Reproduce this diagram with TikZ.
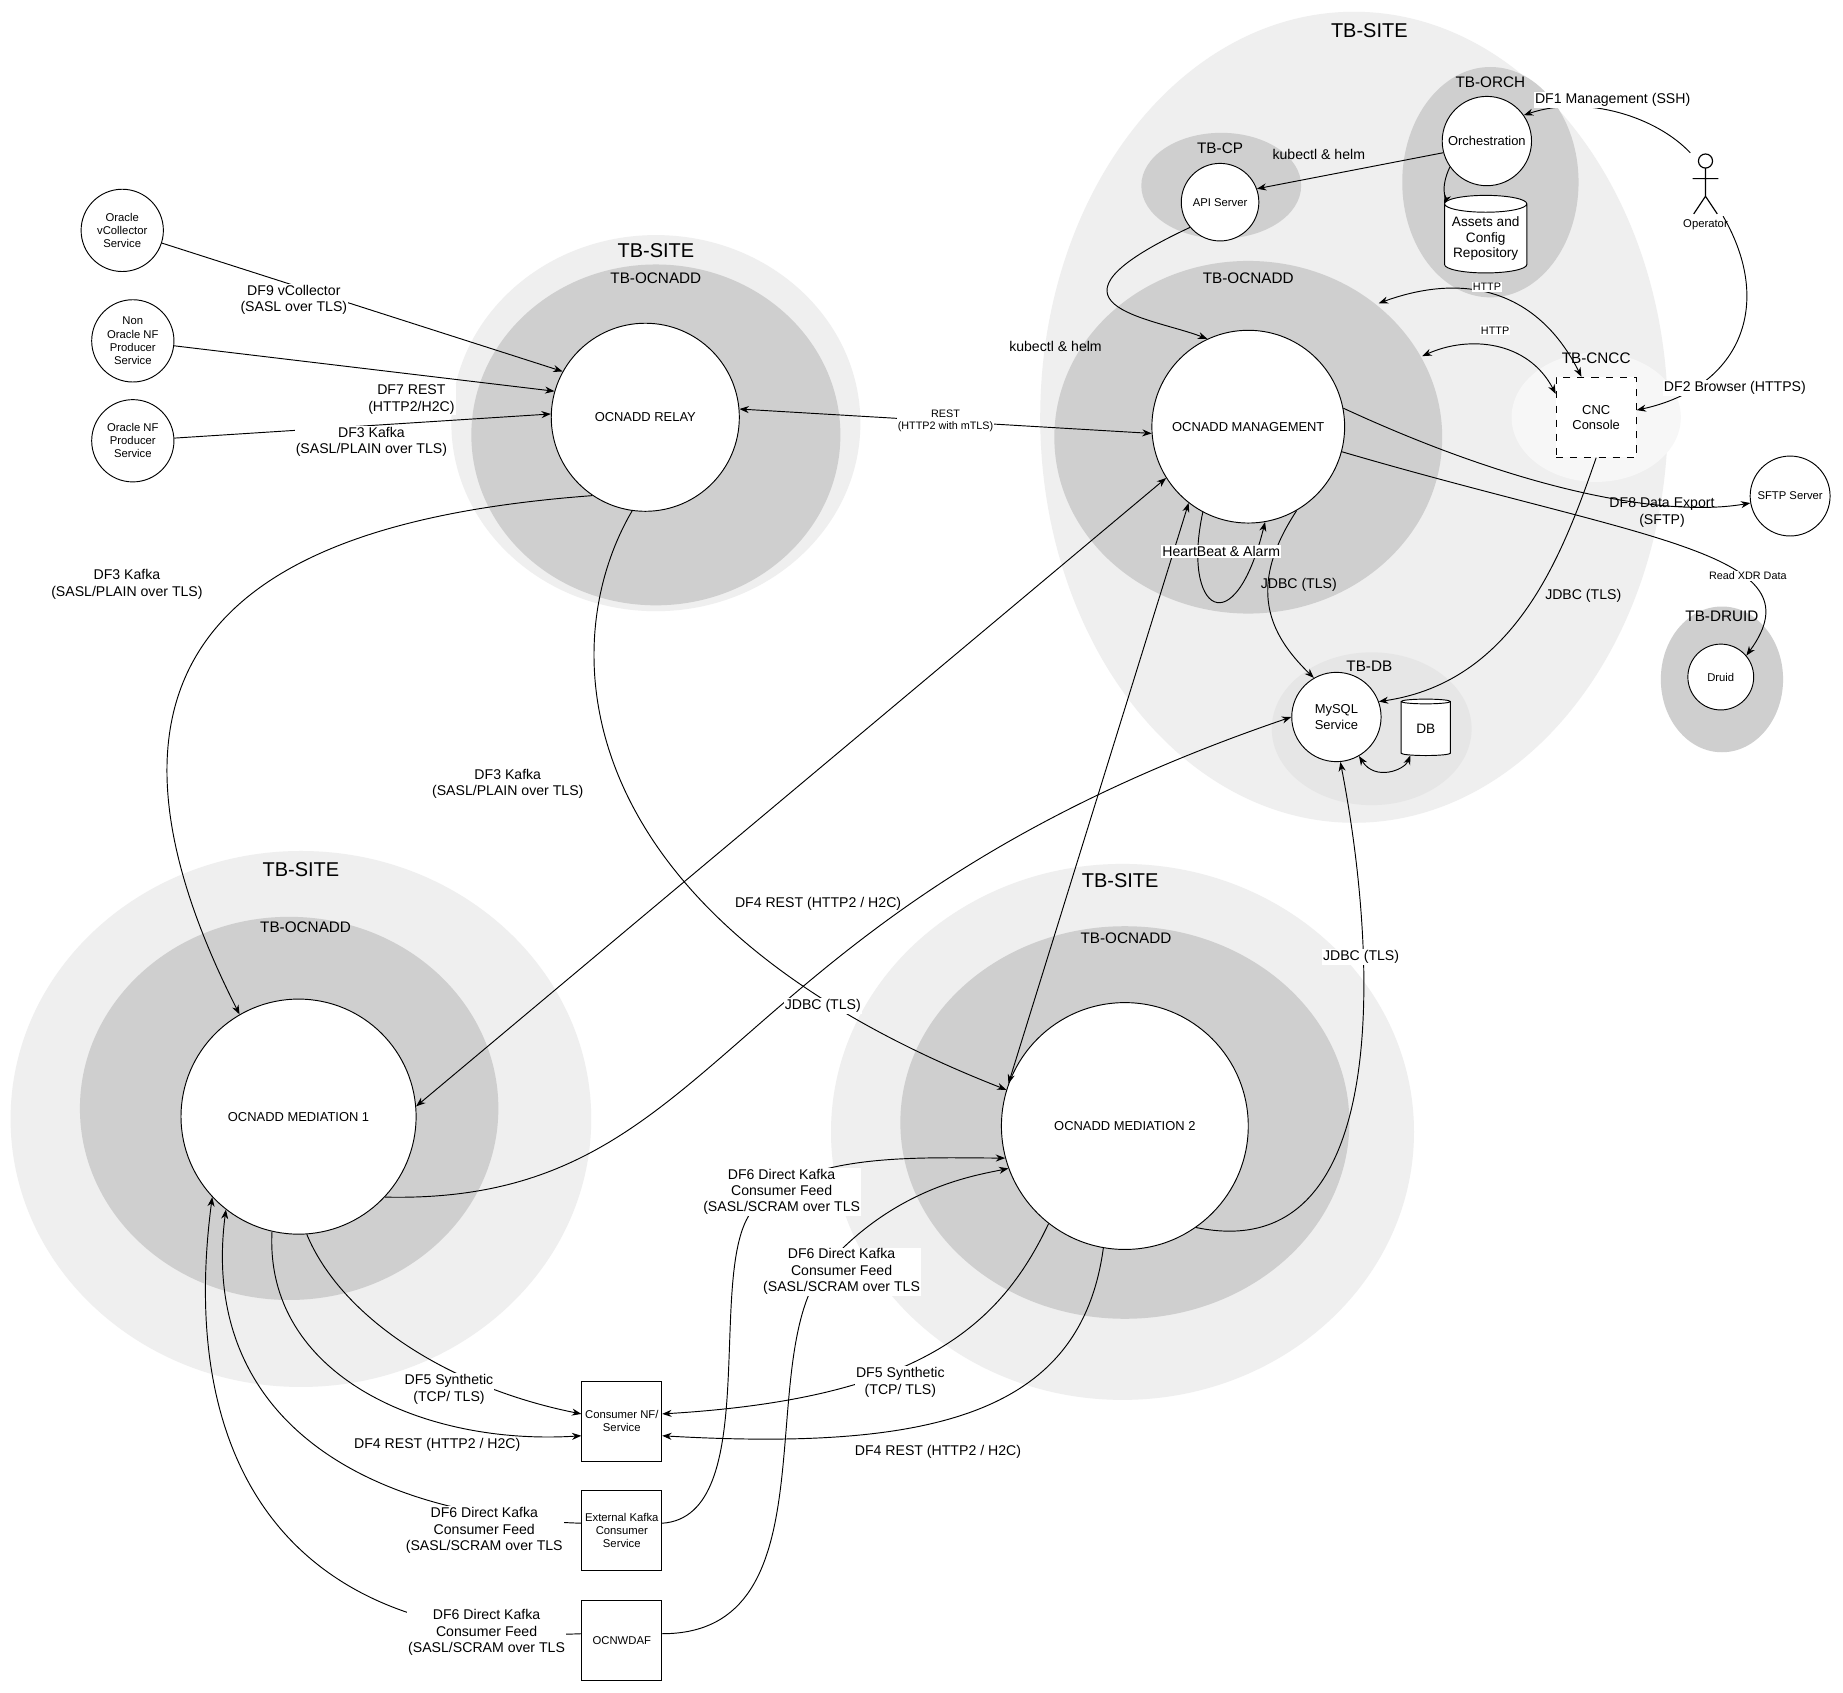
\documentclass[tikz,border=0pt]{standalone}
\usepackage{fontspec}
\setmainfont{Liberation Sans}
\usetikzlibrary{shapes.geometric,arrows.meta}
\definecolor{lite}{HTML}{EFEFEF}
\definecolor{mid}{HTML}{E6E6E6}
\definecolor{dark}{HTML}{CFCFCF}
\definecolor{vlite}{HTML}{F7F7F7}
\begin{document}
\begin{tikzpicture}[x=0.5pt,y=-0.5pt,
 circ/.style={circle,draw,fill=white,align=center,font=\fontsize{5.5}{6.5}\selectfont,inner sep=0pt},
 box/.style={rectangle,draw,fill=white,align=center,font=\fontsize{4.8}{5.6}\selectfont,minimum size=34pt,inner sep=1pt},
 lbl/.style={font=\fontsize{6}{7}\selectfont,align=center,fill=white,inner sep=0.5pt},
 lbln/.style={font=\fontsize{6}{7}\selectfont,align=center,inner sep=0.5pt},
 slbl/.style={font=\fontsize{4.6}{5.2}\selectfont,align=center,fill=white,inner sep=0.5pt},
 site/.style={font=\fontsize{8.5}{10}\selectfont},
 zone/.style={font=\fontsize{6.5}{8}\selectfont},
 arr/.style={-{Stealth[length=4pt,width=3pt]},line width=0.4pt},
 darr/.style={{Stealth[length=4pt,width=3pt]}-{Stealth[length=4pt,width=3pt]},line width=0.4pt},
 cyl/.style={cylinder,shape border rotate=90,draw,fill=white,aspect=0.25,align=center,font=\fontsize{5.8}{6.5}\selectfont,inner sep=0pt}]
\useasboundingbox (0,0) rectangle (1568,1440);
\fill[white] (0,0) rectangle (1568,1440);
% backgrounds
\fill[lite] (1152,355) ellipse [x radius=133.5pt,y radius=172.5pt];
\node[site] at (1165,26) {TB-SITE};
\fill[dark] (1268,155) ellipse [x radius=37.5pt,y radius=49pt];
\node[zone] at (1268,70) {TB-ORCH};
\fill[dark] (1039,158) ellipse [x radius=34pt,y radius=22.5pt];
\node[zone] at (1038,126) {TB-CP};
\fill[dark] (1062,372) ellipse [x radius=82.5pt,y radius=75pt];
\node[zone] at (1062,237) {TB-OCNADD};
\fill[vlite] (1358,355) ellipse [x radius=36pt,y radius=27.5pt];
\node[zone] at (1358,305) {TB-CNCC};
\fill[mid] (1167,620) ellipse [x radius=42.5pt,y radius=32.5pt];
\node[zone] at (1165,567) {TB-DB};
\fill[dark] (1465,578) ellipse [x radius=26pt,y radius=31pt];
\node[zone] at (1465,524) {TB-DRUID};
\fill[lite] (558,360) ellipse [x radius=87pt,y radius=80pt];
\node[site] at (558,213) {TB-SITE};
\fill[dark] (558,370) ellipse [x radius=78.5pt,y radius=72.5pt];
\node[zone] at (558,237) {TB-OCNADD};
\fill[lite] (256,952) ellipse [x radius=123.5pt,y radius=114pt];
\node[site] at (256,740) {TB-SITE};
\fill[dark] (246,943) ellipse [x radius=89pt,y radius=81.5pt];
\node[zone] at (260,789) {TB-OCNADD};
\fill[lite] (955,963) ellipse [x radius=124pt,y radius=114pt];
\node[site] at (953,749) {TB-SITE};
\fill[dark] (957,955) ellipse [x radius=95.5pt,y radius=83.5pt];
\node[zone] at (958,798) {TB-OCNADD};
% nodes
\node[circ,minimum size=38pt] (orch) at (1265,120) {Orchestration};
\node[cyl,minimum width=35pt,minimum height=33pt] (assets) at (1264,203) {Assets and\\Config\\Repository};
\node[circ,minimum size=33pt,font=\fontsize{4.8}{5.6}\selectfont] (api) at (1038,172) {API Server};
\node[circ,minimum size=82pt] (mgmt) at (1062,363) {OCNADD MANAGEMENT};
\node[box,dashed,font=\fontsize{5.5}{6.5}\selectfont] (cnc) at (1358,355) {CNC\\Console};
\node[circ,minimum size=38pt] (mysql) at (1137,610) {MySQL\\Service};
\node[cyl,minimum width=21pt,minimum height=24pt] (db) at (1213,620) {DB};
\node[circ,minimum size=28pt,font=\fontsize{4.8}{5.6}\selectfont] (druid) at (1464,576) {Druid};
\node[circ,minimum size=34pt,font=\fontsize{4.8}{5.6}\selectfont] (sftp) at (1523,422) {SFTP Server};
\node[circ,minimum size=80pt] (relay) at (549,355) {OCNADD RELAY};
\node[circ,minimum size=35pt,font=\fontsize{4.8}{5.6}\selectfont] (vcol) at (104,196) {Oracle\\vCollector\\Service};
\node[circ,minimum size=35pt,font=\fontsize{4.8}{5.6}\selectfont] (nonnf) at (113,290) {Non\\Oracle NF\\Producer\\Service};
\node[circ,minimum size=35pt,font=\fontsize{4.8}{5.6}\selectfont] (onf) at (113,375) {Oracle NF\\Producer\\Service};
\node[circ,minimum size=100pt] (med1) at (254,950) {OCNADD MEDIATION 1};
\node[circ,minimum size=105pt] (med2) at (957,958) {OCNADD MEDIATION 2};
\node[box] (cons) at (529,1209) {Consumer NF/\\Service};
\node[box] (ext) at (529,1302) {External Kafka\\Consumer\\Service};
\node[box] (wdaf) at (529,1396) {OCNWDAF};
% operator
\begin{scope}[line width=0.5pt]
\draw (1451,137) circle (3pt);
\draw (1451,143) -- (1451,167) (1440,152) -- (1462,152) (1451,167) -- (1441,182) (1451,167) -- (1461,182);
\end{scope}
\coordinate (opa) at (1438,130);
\coordinate (opb) at (1466,184);
\coordinate (zt) at (1173,258);
\coordinate (zr) at (1210,303);
\node[font=\fontsize{4.8}{5.6}\selectfont] at (1451,191) {Operator};
% connectors
\draw[arr] (vcol) -- (relay.151);
\node[lbl] at (250,255) {DF9 vCollector\\(SASL over TLS)};
\draw[arr] (nonnf) -- (relay.164);
\node[lbl] at (350,340) {DF7 REST\\(HTTP2/H2C)};
\draw[arr] (onf) -- (relay.178);
\node[lbl] at (316,376) {DF3 Kafka\\(SASL/PLAIN over TLS)};
\draw[darr] (relay.5) -- (mgmt.184) node[slbl,pos=0.5] {REST\\(HTTP2 with mTLS)};
\draw[arr] (relay.236) .. controls (260,440) and (30,520) .. (med1.120);
\node[lbln] at (108,497) {DF3 Kafka\\(SASL/PLAIN over TLS)};
\draw[arr] (relay.262) .. controls (470,550) and (480,780) .. (med2.163);
\node[lbln] at (432,667) {DF3 Kafka\\(SASL/PLAIN over TLS)};
\draw[darr] (mgmt.212) -- (med1.5);
\node[lbl] at (696,769) {DF4 REST (HTTP2 / H2C)};
\draw[darr] (mgmt.232) -- (med2.160);
\draw[arr] (med1.317) .. controls (620,1025) and (600,780) .. (mysql.180);
\node[lbl] at (700,856) {JDBC (TLS)};
\draw[arr] (med2.305) .. controls (1190,1080) and (1170,800) .. (mysql.275);
\node[lbl] at (1158,814) {JDBC (TLS)};
\draw[arr] (mgmt.300) .. controls (1060,500) and (1080,540) .. (mysql.120);
\node[lbln] at (1105,498) {JDBC (TLS)};
\draw[arr] (cnc.270) .. controls (1330,470) and (1290,580) .. (mysql.20);
\node[lbln] at (1347,507) {JDBC (TLS)};
\draw[arr] (mgmt.242) .. controls (1005,520) and (1050,550) .. (mgmt.280);
\node[lbl] at (1039,469) {HeartBeat \& Alarm};
\draw[darr] (mysql.300) .. controls (1170,665) and (1195,655) .. (db.240);
\draw[arr] (mgmt.11) .. controls (1300,420) and (1420,440) .. (sftp.190);
\node[lbln] at (1414,436) {DF8 Data Export\\(SFTP)};
\draw[arr] (mgmt.-15) .. controls (1400,460) and (1550,470) .. (druid.40);
\node[slbl] at (1487,490) {Read XDR Data};
\draw[arr] (orch.195) -- (api.20);
\node[lbln] at (1122,131) {kubectl \& helm};
\draw[arr] (orch.215) .. controls (1225,160) and (1230,170) .. (assets.140);
\draw[arr] (api.220) .. controls (870,260) and (980,270) .. (mgmt.115);
\node[lbln] at (898,295) {kubectl \& helm};
\draw[arr] (opa) .. controls (1410,100) and (1350,80) .. (orch.35);
\node[lbl] at (1372,85) {DF1 Management (SSH)};
\draw[arr] (opb) .. controls (1510,260) and (1480,330) .. (cnc.10);
\node[lbl] at (1476,330) {DF2 Browser (HTTPS)};
\draw[darr] (zt) .. controls (1250,230) and (1310,250) .. (cnc.110);
\node[slbl] at (1265,244) {HTTP};
\draw[darr] (zr) .. controls (1250,285) and (1300,290) .. (cnc.150);
\node[slbl] at (1272,281) {HTTP};
\draw[arr] (med2.232) .. controls (850,1130) and (780,1190) .. (cons.10);
\node[lbl] at (766,1176) {DF5 Synthetic\\(TCP/ TLS)};
\draw[arr] (med2.260) .. controls (920,1200) and (800,1235) .. (cons.-20);
\node[lbl] at (798,1235) {DF4 REST (HTTP2 / H2C)};
\draw[arr] (med1.274) .. controls (290,1120) and (380,1180) .. (cons.170);
\node[lbl] at (382,1182) {DF5 Synthetic\\(TCP/ TLS)};
\draw[arr] (med1.257) .. controls (225,1170) and (360,1230) .. (cons.200);
\node[lbl] at (372,1229) {DF4 REST (HTTP2 / H2C)};
\draw[arr] (ext.10) .. controls (650,1290) and (600,1080) .. (640,1030) .. controls (680,980) and (780,985) .. (med2.195);
\node[lbl] at (665,1014) {DF6 Direct Kafka\\Consumer Feed\\(SASL/SCRAM over TLS};
\draw[arr] (wdaf.10) .. controls (710,1390) and (640,1160) .. (700,1080) .. controls (760,1010) and (830,1000) .. (med2.200);
\node[lbl] at (716,1082) {DF6 Direct Kafka\\Consumer Feed\\(SASL/SCRAM over TLS};
\draw[arr] (ext.170) .. controls (300,1290) and (170,1200) .. (med1.232);
\node[lbl] at (412,1302) {DF6 Direct Kafka\\Consumer Feed\\(SASL/SCRAM over TLS};
\draw[arr] (wdaf.170) .. controls (250,1400) and (150,1250) .. (med1.223);
\node[lbl] at (414,1389) {DF6 Direct Kafka\\Consumer Feed\\(SASL/SCRAM over TLS};
\end{tikzpicture}
\end{document}
